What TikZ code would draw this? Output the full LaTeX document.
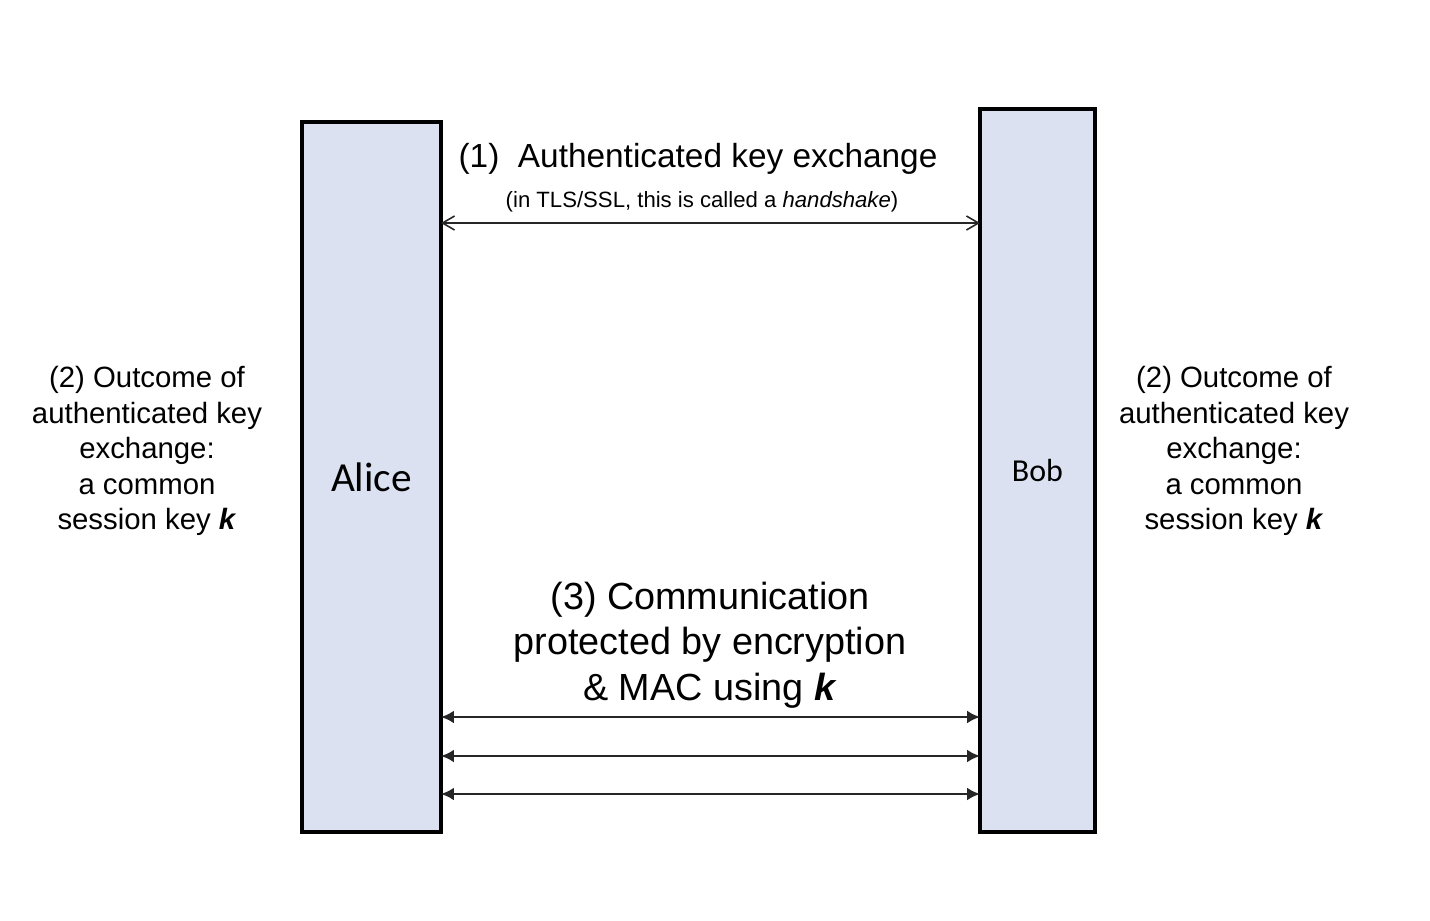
\documentclass[tikz,border=0pt]{standalone}
\usepackage{fontspec}
\setmainfont{Liberation Sans}
\newfontfamily\calibri{Carlito}
\usepackage{xcolor}
\usepackage{tikz}
\usetikzlibrary{arrows.meta}
\usetikzlibrary{positioning}
\definecolor{partyblue}{RGB}{219,225,241}
\tikzset{>=latex}

\begin{document}
\begin{tikzpicture}[
        x=0.02cm, y=-0.02cm,
        party/.style={draw=black, fill=partyblue, line width=0.08cm, outer sep=0pt, inner sep=0pt},
        handshake/.style={draw=black!85, line width=0.9pt, {Straight Barb[length=2.4mm,width=2.8mm]}-{Straight Barb[length=2.4mm,width=2.8mm]}},
        channel/.style={draw=black!85, line width=1.3pt, {Latex[length=2.6mm,width=2.6mm]}-{Latex[length=2.6mm,width=2.6mm]}},
        sidenote/.style={align=center, font=\fontsize{16.7}{20.2}\selectfont}
    ]

    %=== Canvas ===%
    \useasboundingbox (0,0) rectangle (1430,920);

    %=== Parties ===%
    \node[party, minimum width=2.78cm, minimum height=14.2cm] (alice) at (371.5,477)
        {\calibri\fontsize{23.5}{28}\selectfont Alice};
    \node[party, minimum width=2.3cm, minimum height=14.46cm] (bob) at (1037.5,470.5)
        {\calibri\fontsize{18.2}{22}\selectfont Bob};

    %=== Step (1): key exchange ===%
    \node[font=\fontsize{19}{23}\selectfont] (kextitle) at (698,159) {(1)\ \ Authenticated key exchange};
    \node[font=\fontsize{12.6}{15}\selectfont] (kexnote) at (702,202) {(in TLS/SSL, this is called a \textit{handshake})};
    \draw[handshake] (alice.east |- 0,223) -- (bob.west |- 0,223);

    %=== Step (2): outcome on both sides ===%
    \node[sidenote] (alicekey) at (147,451)
        {(2) Outcome of\\authenticated key\\exchange:\\a common\\session key \textbf{\textit{k}}};
    \node[sidenote] (bobkey) at (1234,451)
        {(2) Outcome of\\authenticated key\\exchange:\\a common\\session key \textbf{\textit{k}}};

    %=== Step (3): protected channel ===%
    \node[align=center, font=\fontsize{21.5}{25.8}\selectfont] (channeltext) at (710,645)
        {(3) Communication\\protected by encryption\\\& MAC using \textbf{\textit{k}}};
    \foreach \y in {717,756,794}
        \draw[channel] (alice.east |- 0,\y) -- (bob.west |- 0,\y);

\end{tikzpicture}
\end{document}
